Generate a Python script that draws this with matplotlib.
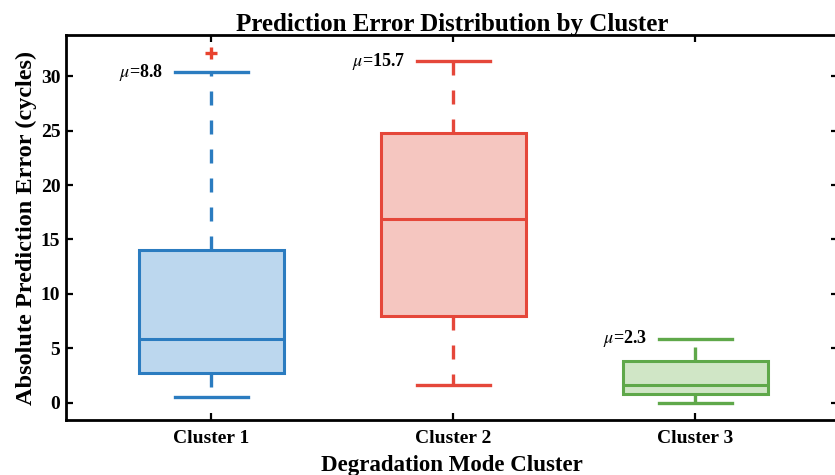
import matplotlib
matplotlib.use("Agg")
import matplotlib.pyplot as plt

plt.rcParams['font.family'] = ['Liberation Serif', 'DejaVu Serif']
plt.rcParams['mathtext.fontset'] = 'stix'

# Per-cluster box statistics (cycles)
clusters = ['Cluster 1', 'Cluster 2', 'Cluster 3']
whislo = [0.55, 1.65, 0.0]
q1 = [2.75, 8.0, 0.8]
med = [5.8, 16.9, 1.65]
q3 = [14.0, 24.8, 3.85]
whishi = [30.4, 31.4, 5.85]
outliers = [[32.2], [], []]
means = [8.8, 15.7, 2.3]

colors = ['#2b7cc0', '#e5473a', '#5fa84a']
fills = ['#bcd7ee', '#f5c6c0', '#d0e6c6']

fig = plt.figure(figsize=(8.35, 4.75), dpi=100)
ax = fig.add_axes([0.079, 0.116, 0.925, 0.81])

stats = []
for i, name in enumerate(clusters):
    stats.append(dict(label=name, whislo=whislo[i], q1=q1[i], med=med[i],
                      q3=q3[i], whishi=whishi[i], fliers=outliers[i]))

positions = [1, 2, 3]
bp = ax.bxp(stats, positions=positions, widths=0.6, patch_artist=True,
            showfliers=True, manage_ticks=False)

for i, c in enumerate(colors):
    box = bp['boxes'][i]
    box.set_facecolor(fills[i])
    box.set_edgecolor(c)
    box.set_linewidth(2.2)
    bp['medians'][i].set_color(c)
    bp['medians'][i].set_linewidth(2.2)
    for w in bp['whiskers'][2 * i:2 * i + 2]:
        w.set_color(c)
        w.set_linewidth(2.4)
        w.set_linestyle((0, (4.2, 4.5)))
    for cap in bp['caps'][2 * i:2 * i + 2]:
        cap.set_color(c)
        cap.set_linewidth(2.4)
        cap.set_xdata([positions[i] - 0.15, positions[i] + 0.15])
    fl = bp['fliers'][i]
    fl.set_marker('+')
    fl.set_markeredgecolor('#e8432e')
    fl.set_markersize(8)
    fl.set_markeredgewidth(2.4)

# mean annotations beside the upper whisker caps
for i, m in enumerate(means):
    ax.text(positions[i] - 0.2, whishi[i], rf'$\mu$={m:.1f}', ha='right',
            va='center', fontsize=13, fontweight='bold')

ax.set_xlim(0.4, 3.59)
ax.set_ylim(-1.6, 33.8)
ax.set_xticks(positions)
ax.set_xticklabels(clusters)
ax.set_yticks([0, 5, 10, 15, 20, 25, 30])
ax.tick_params(direction='in', length=5, width=1.6, top=True, right=True)
ax.tick_params(axis='x', labelsize=14, pad=7)
ax.tick_params(axis='y', labelsize=14, pad=4)
for lbl in ax.get_xticklabels() + ax.get_yticklabels():
    lbl.set_fontweight('bold')
for s in ax.spines.values():
    s.set_linewidth(2.0)

ax.set_title('Prediction Error Distribution by Cluster', fontsize=18,
             fontweight='bold', pad=3)
ax.set_xlabel('Degradation Mode Cluster', fontsize=16.5, fontweight='bold',
              labelpad=6)
ax.set_ylabel('Absolute Prediction Error (cycles)', fontsize=17.5,
              fontweight='bold', labelpad=3)

fig.savefig('out.png', dpi=100)
